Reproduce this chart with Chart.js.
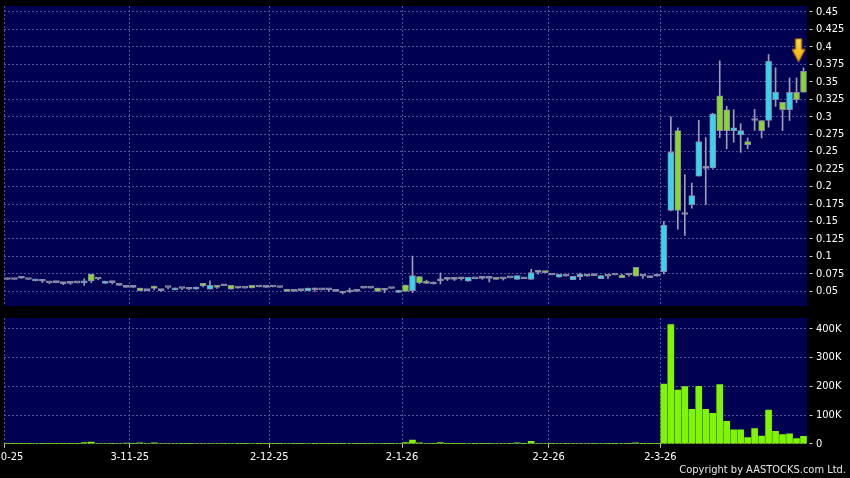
<!DOCTYPE html>
<html>
<head>
<meta charset="utf-8">
<script src="https://cdn.jsdelivr.net/npm/chart.js@4.4.1/dist/chart.umd.min.js"></script>
<style>
html, body { margin: 0; padding: 0; background: #000; }
#wrap { position: relative; width: 850px; height: 478px; overflow: hidden; background: #000; }
#price { position: absolute; left: 0; top: 0; }
#vol { position: absolute; left: 0; top: 312px; }
</style>
</head>
<body>
<div id="wrap">
  <canvas id="price" width="850" height="312"></canvas>
  <canvas id="vol" width="850" height="166"></canvas>
</div>
<script>
// daily prices
const opens = [
  .067, .067, .0687, .067, .065, .0644, .062, .0625, .061, .0615,
  .062, .062, .0745, .0677, .0615, .0625, .0586, .0557, .0557, .0547,
  .051, .0576, .051, .0555, .052, .054, .053, .053, .0615, .053,
  .0586, .058, .0586, .0547, .0547, .0586, .0562, .0557, .0562, .0555,
  .053, .050, .051, .051, .052, .052, .052, .050, .0476, .049,
  .050, .0547, .0547, .0547, .0515, .054, .0485, .059, .051, .071,
  .064, .0605, .065, .0672, .0672, .068, .0645, .068, .0686, .0686,
  .070, .068, .0693, .0672, .068, .0672, .0772, .079, .0734, .0701,
  .0716, .0667, .0711, .0744, .0725, .068, .0716, .0734, .0734, .0734,
  .0845, .0716, .0696, .0716, .078, .166, .280, .160, .174, .215,
  .226, .2266, .330, .310, .280, .274, .2645, .2946, .2946, .2946,
  .3243, .3205, .310, .335, .365
];
const highs = [
  .067, .067, .0697, .067, .067, .0665, .062, .0625, .0625, .0615,
  .062, .068, .0745, .069, .0645, .0625, .0586, .0557, .0557, .0547,
  .051, .0576, .052, .0555, .0547, .054, .0535, .0562, .0615, .065,
  .0586, .058, .0586, .0557, .0547, .0586, .0562, .0557, .0562, .0555,
  .053, .050, .051, .0547, .0547, .052, .053, .050, .050, .0547,
  .050, .0547, .0547, .0547, .0537, .054, .0515, .059, .1005, .071,
  .066, .0635, .0764, .0693, .0693, .0697, .070, .068, .069, .0686,
  .070, .069, .0693, .0724, .069, .0816, .079, .079, .0734, .0744,
  .0716, .0716, .0763, .0744, .0725, .0724, .0716, .0734, .0744, .0744,
  .0845, .0716, .0696, .0725, .150, .300, .284, .217, .205, .295,
  .270, .305, .380, .315, .310, .290, .2697, .3105, .2946, .389,
  .370, .3205, .3555, .3555, .370
];
const lows = [
  .067, .067, .0687, .067, .065, .0625, .061, .0625, .0595, .060,
  .062, .0585, .0625, .0665, .0615, .0605, .0586, .0557, .0557, .051,
  .051, .052, .050, .0535, .052, .0525, .0525, .053, .0562, .053,
  .054, .058, .053, .0547, .0547, .055, .0562, .0557, .0562, .0555,
  .050, .050, .051, .051, .050, .052, .050, .050, .0462, .0483,
  .050, .0547, .0547, .050, .048, .054, .0485, .050, .048, .061,
  .0615, .0605, .0605, .0655, .0655, .066, .0645, .068, .0672, .0634,
  .0672, .0662, .0693, .0672, .068, .0672, .0744, .0767, .0734, .0701,
  .0716, .0667, .0667, .0716, .0725, .068, .0686, .0734, .0696, .0716,
  .0716, .0686, .0696, .0716, .075, .165, .139, .130, .169, .215,
  .174, .226, .270, .254, .2635, .249, .254, .2803, .2697, .285,
  .3147, .280, .2946, .320, .335
];
const closes = [
  .067, .067, .0687, .067, .067, .0644, .062, .0625, .061, .0615,
  .062, .0645, .065, .0677, .0645, .0625, .0586, .0557, .0557, .051,
  .051, .054, .051, .0555, .0547, .054, .053, .0562, .0578, .0586,
  .0557, .058, .053, .0547, .0547, .055, .0562, .0557, .0562, .0555,
  .050, .050, .051, .0547, .052, .052, .052, .050, .0476, .049,
  .050, .0547, .0547, .050, .0515, .054, .0515, .050, .0725, .0625,
  .0615, .0605, .065, .0672, .0672, .068, .070, .068, .0686, .0686,
  .0672, .068, .0693, .0724, .068, .0767, .0772, .0767, .0734, .0744,
  .0716, .0716, .0744, .0716, .0725, .0724, .0716, .0734, .0696, .0734,
  .0716, .0716, .0696, .0716, .145, .249, .166, .160, .187, .2645,
  .226, .304, .280, .280, .284, .280, .260, .2946, .280, .3794,
  .335, .310, .335, .3243, .335
];
// daily volume (shares)
const volumes = [
  500, 500, 800, 500, 1500, 800, 800, 500, 800, 800,
  500, 4000, 6000, 1000, 1500, 800, 1000, 2500, 800, 3000,
  2000, 3000, 2000, 1000, 1500, 800, 800, 1500, 1500, 2000,
  1500, 500, 1500, 800, 500, 1200, 500, 500, 500, 500,
  1500, 500, 500, 1200, 800, 500, 800, 500, 800, 1000,
  500, 500, 500, 1200, 800, 500, 1500, 4000, 13000, 3000,
  1500, 800, 4000, 800, 800, 800, 1500, 500, 800, 800,
  1500, 2000, 500, 3000, 800, 9000, 1000, 2000, 500, 1500,
  500, 1500, 1500, 1500, 500, 1500, 800, 500, 1500, 800,
  3000, 800, 500, 800, 208000, 415000, 187000, 199000, 120000, 200000,
  120000, 106000, 206000, 78000, 49000, 49000, 22000, 53000, 27000, 117000,
  43000, 32000, 35000, 18000, 26000
];

// month labels sit on the boundary before the first trading day
const xTickPos = [-0.5, 17.5, 37.5, 56.5, 77.5, 93.5];
const xTickText = ['2-10-25', '3-11-25', '2-12-25', '2-1-26', '2-2-26', '2-3-26'];
const priceTicks = [0.05, 0.075, 0.1, 0.125, 0.15, 0.175, 0.2, 0.225, 0.25, 0.275,
                    0.3, 0.325, 0.35, 0.375, 0.4, 0.425, 0.45];
const volTicks = [0, 100000, 200000, 300000, 400000];

const FONT = "'DejaVu Sans Condensed', 'Liberation Sans Narrow', 'DejaVu Sans', sans-serif";
Chart.defaults.font.family = FONT;
Chart.defaults.font.size = 11;
Chart.defaults.color = '#ffffff';

const PLOT_BG = '#000052';
const GRID = '#54549a';
const UP = '#35d5ef';
const DOWN = '#8bd62e';
const FLAT = '#a2a2b8';

const days = opens.map((o, i) => i);

const plotBg = {
  id: 'plotBg',
  beforeDraw(chart) {
    const a = chart.chartArea;
    const ctx = chart.ctx;
    ctx.save();
    ctx.fillStyle = PLOT_BG;
    ctx.fillRect(a.left, a.top, a.right - a.left, a.bottom - a.top);
    ctx.restore();
  }
};

// little yellow arrow above the last candle
const arrowImg = document.createElement('canvas');
arrowImg.width = 24;
arrowImg.height = 26;
(function () {
  const g = arrowImg.getContext('2d');
  const grad = g.createLinearGradient(0, 0, 0, 26);
  grad.addColorStop(0, '#ffe24a');
  grad.addColorStop(1, '#f0a400');
  g.beginPath();
  g.moveTo(4, 1.5);
  g.lineTo(10, 1.5);
  g.lineTo(10, 12);
  g.lineTo(13.5, 12);
  g.lineTo(7, 24.5);
  g.lineTo(0.5, 12);
  g.lineTo(4, 12);
  g.closePath();
  g.fillStyle = grad;
  g.fill();
  g.strokeStyle = '#b87400';
  g.lineWidth = 1;
  g.stroke();
})();

const last = opens.length - 1;
const arrowData = days.map(i => i === last ? highs[i] + 0.025 : null);

const bodyColors = opens.map((o, i) => closes[i] > o ? UP : (closes[i] < o ? DOWN : FLAT));

function fixX(h) {
  return function (s) {
    s.height = h;
    s.paddingLeft = 0;
    s.paddingRight = 0;
  };
}
function fixY(s) {
  s.width = 39;
  s.paddingTop = 0;
  s.paddingBottom = 0;
}
function setXTicks(s) {
  s.ticks = xTickPos.map(v => ({value: v}));
}

new Chart(document.getElementById('price'), {
  type: 'bar',
  data: {
    labels: days,
    datasets: [
      {
        label: 'body',
        data: opens.map((o, i) => [o, closes[i]]),
        backgroundColor: bodyColors,
        borderColor: '#8a8aa6',
        borderWidth: 1,
        borderSkipped: false,
        barThickness: 6,
        minBarLength: 2,
        grouped: false
      },
      {
        label: 'wick',
        data: lows.map((l, i) => [l, highs[i]]),
        backgroundColor: '#9c9cb4',
        barThickness: 1,
        grouped: false
      },
      {
        type: 'line',
        label: 'last',
        data: arrowData,
        showLine: false,
        pointStyle: arrowImg,
        pointRadius: 1,
        clip: false
      }
    ]
  },
  options: {
    responsive: false,
    animation: false,
    devicePixelRatio: 1,
    layout: {autoPadding: false, padding: {left: 4, right: 4, top: 6, bottom: 6}},
    plugins: {legend: {display: false}, tooltip: {enabled: false}},
    scales: {
      x: {
        offset: true,
        afterBuildTicks: setXTicks,
        afterFit: fixX(0),
        ticks: {autoSkip: false, maxRotation: 0, padding: 0, callback: () => ''},
        grid: {offset: false, drawTicks: false, color: GRID},
        border: {display: false, dash: [2, 2]}
      },
      y: {
        position: 'right',
        min: 0.029,
        max: 0.4585,
        afterBuildTicks: s => { s.ticks = priceTicks.map(v => ({value: v})); },
        afterFit: fixY,
        ticks: {
          padding: 3,
          color: '#ffffff',
          callback: v => String(+v.toFixed(3))
        },
        grid: {
          color: GRID,
          tickLength: 6,
          tickColor: '#d0d0d0',
          tickBorderDash: [0, 2.5, 3, 50]
        },
        border: {display: false, dash: [2, 2]}
      }
    }
  },
  plugins: [plotBg]
});

new Chart(document.getElementById('vol'), {
  type: 'bar',
  data: {
    labels: days,
    datasets: [{
      label: 'volume',
      data: volumes,
      backgroundColor: '#7ff500',
      barThickness: 6
    }]
  },
  options: {
    responsive: false,
    animation: false,
    devicePixelRatio: 1,
    layout: {autoPadding: false, padding: {left: 4, right: 4, top: 6, bottom: 0}},
    plugins: {
      legend: {display: false},
      tooltip: {enabled: false},
      title: {
        display: true,
        position: 'bottom',
        align: 'end',
        text: 'Copyright by AASTOCKS.com Ltd.',
        color: '#e8e8e8',
        font: {size: 11, weight: 'normal'},
        padding: {top: 0, bottom: 1}
      }
    },
    scales: {
      x: {
        offset: true,
        afterBuildTicks: setXTicks,
        afterFit: fixX(20),
        ticks: {
          autoSkip: false,
          maxRotation: 0,
          padding: 3,
          color: '#ffffff',
          callback: (v, i) => xTickText[i]
        },
        grid: {offset: false, color: GRID, tickLength: 4, tickColor: '#c0c0c0', tickBorderDash: []},
        border: {display: false, dash: [2, 2]}
      },
      y: {
        position: 'right',
        min: 0,
        max: 438000,
        afterBuildTicks: s => { s.ticks = volTicks.map(v => ({value: v})); },
        afterFit: fixY,
        ticks: {
          padding: 3,
          color: '#ffffff',
          callback: v => v === 0 ? '0' : (v / 1000) + 'K'
        },
        grid: {
          color: GRID,
          tickLength: 6,
          tickColor: '#d0d0d0',
          tickBorderDash: [0, 2.5, 3, 50]
        },
        border: {display: false, dash: [2, 2]}
      }
    }
  },
  plugins: [plotBg]
});
</script>
</body>
</html>
